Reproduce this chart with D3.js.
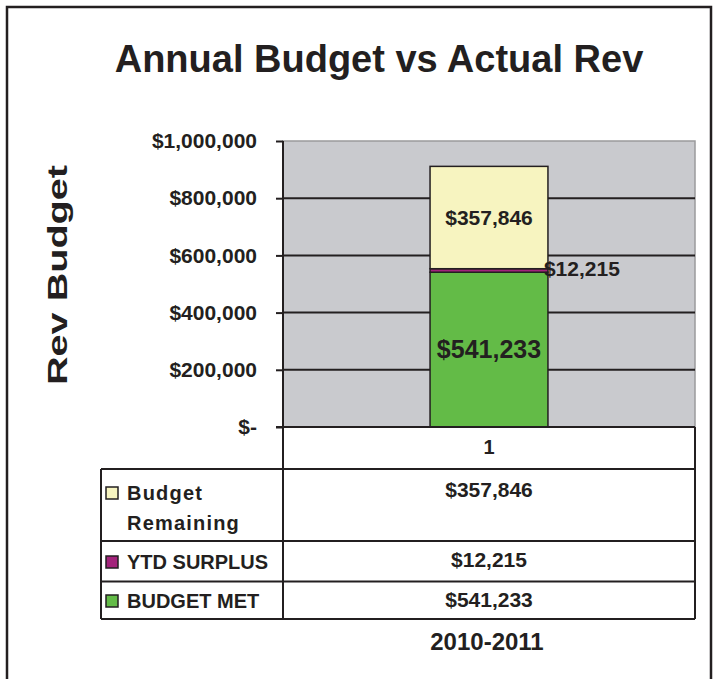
<!DOCTYPE html>
<html>
<head>
<meta charset="utf-8">
<script src="https://cdn.jsdelivr.net/npm/d3@7"></script>
<style>
  html, body { margin: 0; padding: 0; background: #fff; }
  svg { display: block; font-family: "Liberation Sans", Arial, sans-serif; }
</style>
</head>
<body>
<svg id="chart" width="719" height="679"></svg>
<script>
// ---- data ----
const categories = ["1"];
const seriesNames = ["BUDGET MET", "YTD SURPLUS", "Budget Remaining"];
const budgetMet = [541233];
const ytdSurplus = [12215];
const budgetRemaining = [357846];
const seriesColors = ["#63BB47", "#A3237B", "#F7F4C0"];
const yTicks = [0, 200000, 400000, 600000, 800000, 1000000];
const titleText = "Annual Budget vs Actual Rev";
const yTitleText = "Rev Budget";
const periodLabel = "2010-2011";

const seriesValues = [budgetMet, ytdSurplus, budgetRemaining];
const ink = "#231F20";

const svg = d3.select("#chart");

// outer frame
svg.append("path")
  .attr("d", "M7,679 L7,7 L711,7 L711,679")
  .attr("fill", "none").attr("stroke", ink).attr("stroke-width", 2.5);

// title
svg.append("text")
  .attr("x", 379).attr("y", 72)
  .attr("text-anchor", "middle")
  .attr("font-size", 38).attr("font-weight", "bold").attr("fill", ink)
  .text(titleText);

// scales
const plotL = 283, plotR = 695, plotT = 141, plotB = 427;
const y = d3.scaleLinear().domain([0, 1000000]).range([plotB, plotT]);
const x = d3.scaleBand().domain(categories).range([plotL, plotR])
  .paddingInner(0.555).paddingOuter(0.555);

// plot background
svg.append("rect")
  .attr("x", plotL).attr("y", plotT)
  .attr("width", plotR - plotL).attr("height", plotB - plotT)
  .attr("fill", "#C9CACE").attr("stroke", "#9a9a9c").attr("stroke-width", 1.5);

// gridlines
svg.append("g").selectAll("line")
  .data(yTicks.filter(d => d > 0 && d < 1000000))
  .join("line")
  .attr("x1", plotL).attr("x2", plotR)
  .attr("y1", d => y(d)).attr("y2", d => y(d))
  .attr("stroke", ink).attr("stroke-width", 2);

// stacked bars
const stackData = categories.map((c, i) => {
  const o = { cat: c };
  seriesNames.forEach((s, j) => { o[s] = seriesValues[j][i]; });
  return o;
});
const stacked = d3.stack().keys(seriesNames)(stackData);
const barG = svg.append("g");
stacked.forEach((layer, j) => {
  barG.selectAll(null).data(layer).join("rect")
    .attr("x", d => x(d.data.cat))
    .attr("width", x.bandwidth())
    .attr("y", d => y(d[1]))
    .attr("height", d => y(d[0]) - y(d[1]))
    .attr("fill", seriesColors[j])
    .attr("stroke", ink).attr("stroke-width", 1.5);
});

// bar labels
const fmt = d3.format("$,");
const labelG = svg.append("g").attr("font-weight", "bold").attr("fill", ink);
stacked.forEach((layer, j) => {
  layer.forEach(d => {
    const cx = x(d.data.cat) + x.bandwidth() / 2;
    const cy = (y(d[0]) + y(d[1])) / 2;
    const t = labelG.append("text").attr("dominant-baseline", "central").text(fmt(d[1] - d[0]));
    if (j === 1) {
      t.attr("x", x(d.data.cat) + x.bandwidth() - 4).attr("y", cy - 2)
        .attr("text-anchor", "start").attr("font-size", 21);
    } else if (j === 0) {
      t.attr("x", cx).attr("y", cy - 1).attr("text-anchor", "middle").attr("font-size", 25);
    } else {
      t.attr("x", cx).attr("y", cy).attr("text-anchor", "middle").attr("font-size", 21);
    }
  });
});

// y axis
const yAxis = d3.axisLeft(y).tickValues(yTicks).tickSize(7).tickPadding(19)
  .tickFormat(d => d === 0 ? "$-" : fmt(d));
const yg = svg.append("g").attr("transform", `translate(${plotL},0)`).call(yAxis);
yg.select(".domain").remove();
yg.selectAll(".tick line").attr("stroke", ink).attr("stroke-width", 2);
yg.selectAll(".tick text").attr("font-size", 21).attr("font-weight", "bold")
  .attr("fill", ink).attr("font-family", "Liberation Sans, Arial, sans-serif");

// y axis title
svg.append("text")
  .attr("transform", "translate(67,275) rotate(-90)")
  .attr("text-anchor", "middle")
  .attr("font-size", 28).attr("font-weight", "bold").attr("fill", ink)
  .attr("textLength", 220).attr("lengthAdjust", "spacingAndGlyphs")
  .text(yTitleText);

// data table
const tblL = 101, rowTops = [469, 541, 581.5], tblB = 619;
const tableRows = [2, 1, 0]; // series index shown top to bottom
const lines = svg.append("g").attr("stroke", ink).attr("stroke-width", 2);
lines.append("line").attr("x1", plotL).attr("x2", plotL).attr("y1", plotT).attr("y2", tblB);
lines.append("line").attr("x1", plotR).attr("x2", plotR).attr("y1", plotB).attr("y2", tblB);
lines.append("line").attr("x1", tblL).attr("x2", tblL).attr("y1", rowTops[0]).attr("y2", tblB);
lines.append("line").attr("x1", plotL - 7).attr("x2", plotR).attr("y1", plotB).attr("y2", plotB);
[...rowTops, tblB].forEach(v => {
  lines.append("line").attr("x1", tblL).attr("x2", plotR).attr("y1", v).attr("y2", v);
});

const tg = svg.append("g").attr("font-weight", "bold").attr("fill", ink);
categories.forEach(c => {
  tg.append("text").attr("x", x(c) + x.bandwidth() / 2).attr("y", 454)
    .attr("text-anchor", "middle").attr("font-size", 20).text(c);
});
const rowBaselines = [[500, 530], [569], [608]];
const valueBaselines = [497, 567, 607];
tableRows.forEach((si, r) => {
  svg.append("rect")
    .attr("x", 106).attr("y", rowBaselines[r][0] - 13)
    .attr("width", 12).attr("height", 12)
    .attr("fill", seriesColors[si]).attr("stroke", ink).attr("stroke-width", 1.5);
  const name = seriesNames[si];
  const parts = name === "Budget Remaining" ? ["Budget", "Remaining"] : [name];
  parts.forEach((p, k) => {
    tg.append("text").attr("x", 127).attr("y", rowBaselines[r][k])
      .attr("font-size", 20).attr("letter-spacing", name === "Budget Remaining" ? 1.2 : 0)
      .text(p);
  });
  categories.forEach((c, ci) => {
    tg.append("text").attr("x", x(c) + x.bandwidth() / 2).attr("y", valueBaselines[r])
      .attr("text-anchor", "middle").attr("font-size", 21)
      .text(fmt(seriesValues[si][ci]));
  });
});

tg.append("text").attr("x", 487).attr("y", 650)
  .attr("text-anchor", "middle").attr("font-size", 24).text(periodLabel);
</script>
</body>
</html>
